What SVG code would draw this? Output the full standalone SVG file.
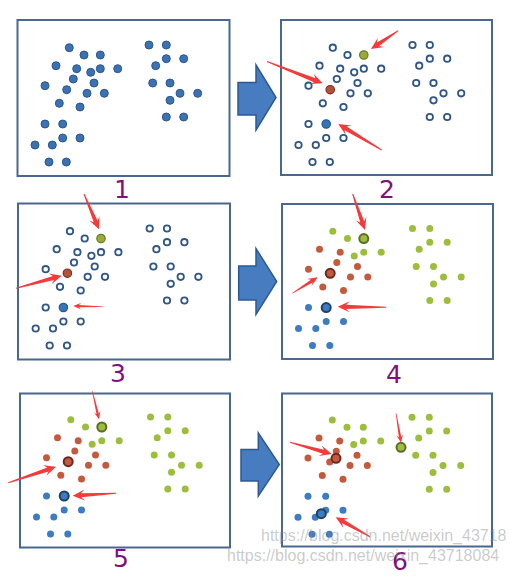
<svg xmlns="http://www.w3.org/2000/svg" width="510" height="576" viewBox="0 0 510 576">
<style>
.frame{fill:#fff;stroke:#4a6790;stroke-width:2}
.d{fill:#3c71b3;stroke:#2a588d;stroke-width:1}
.o{fill:#fff;stroke:#2f5686;stroke-width:1.8}
.g{fill:#9dbd3c}
.r{fill:#c45a3d}
.b{fill:#3b7cc4}
.cg{fill:#9aab38;stroke:#6d7a28;stroke-width:1.2}
.cr{fill:#b5503a;stroke:#7c2f22;stroke-width:1.2}
.cb{fill:#3674ba;stroke:#2a5a90;stroke-width:1.2}
.rg{fill:#9dbd3c;stroke:#5f6b26;stroke-width:2}
.rr{fill:#c45a3d;stroke:#6b2820;stroke-width:2}
.rb{fill:#3b7cc4;stroke:#22405f;stroke-width:2}
.blk{fill:#477dc0;stroke:#2d5a92;stroke-width:1.5}
.ra{fill:#f43a3a}
.lbl{font-family:"DejaVu Sans",sans-serif;font-size:25px;fill:#80107f;text-anchor:middle}
.wm{font-family:"Liberation Sans",Arial,sans-serif;font-size:16px;fill:#8a8a8a;fill-opacity:0.45}
</style>

<g id="panel1">
<rect class="frame" x="17.5" y="20" width="212" height="156"/>
<g class="d">
<circle cx="69.3" cy="47.7" r="4"/><circle cx="84" cy="55" r="4"/><circle cx="100.3" cy="55" r="4"/><circle cx="56" cy="65.7" r="4"/><circle cx="76.7" cy="68.7" r="4"/><circle cx="90.7" cy="72.3" r="4"/><circle cx="100.3" cy="68.7" r="4"/><circle cx="117.7" cy="68.7" r="4"/><circle cx="73.3" cy="79" r="4"/><circle cx="94" cy="83" r="4"/><circle cx="45" cy="85.7" r="4"/><circle cx="66.7" cy="89.7" r="4"/><circle cx="87" cy="93.3" r="4"/><circle cx="104.3" cy="93.3" r="4"/><circle cx="59.3" cy="103.3" r="4"/><circle cx="80" cy="107" r="4"/><circle cx="45" cy="124" r="4"/><circle cx="62.7" cy="124" r="4"/><circle cx="62.7" cy="138" r="4"/><circle cx="80" cy="138" r="4"/><circle cx="35" cy="145" r="4"/><circle cx="52.3" cy="145" r="4"/><circle cx="49" cy="162" r="4"/><circle cx="66.3" cy="162" r="4"/>
<circle cx="149" cy="45" r="4"/><circle cx="166.3" cy="45" r="4"/><circle cx="166.3" cy="58.7" r="4"/><circle cx="183.7" cy="58.7" r="4"/><circle cx="155.7" cy="65.7" r="4"/><circle cx="152.7" cy="83" r="4"/><circle cx="170" cy="83" r="4"/><circle cx="180" cy="93.3" r="4"/><circle cx="197.7" cy="93.3" r="4"/><circle cx="170" cy="100.3" r="4"/><circle cx="166.3" cy="117" r="4"/><circle cx="183.7" cy="117" r="4"/>
</g>
<text class="lbl" x="122" y="198">1</text>
</g>

<g id="panel2">
<rect class="frame" x="281" y="20" width="211" height="155"/>
<g transform="translate(263.5,0)">
<g class="o">
<circle cx="69.3" cy="47.7" r="3.2"/><circle cx="84" cy="55" r="3.2"/><circle cx="56" cy="65.7" r="3.2"/><circle cx="76.7" cy="68.7" r="3.2"/><circle cx="90.7" cy="72.3" r="3.2"/><circle cx="100.3" cy="68.7" r="3.2"/><circle cx="117.7" cy="68.7" r="3.2"/><circle cx="73.3" cy="79" r="3.2"/><circle cx="94" cy="83" r="3.2"/><circle cx="45" cy="85.7" r="3.2"/><circle cx="87" cy="93.3" r="3.2"/><circle cx="104.3" cy="93.3" r="3.2"/><circle cx="59.3" cy="103.3" r="3.2"/><circle cx="80" cy="107" r="3.2"/><circle cx="45" cy="124" r="3.2"/><circle cx="62.7" cy="138" r="3.2"/><circle cx="80" cy="138" r="3.2"/><circle cx="35" cy="145" r="3.2"/><circle cx="52.3" cy="145" r="3.2"/><circle cx="49" cy="162" r="3.2"/><circle cx="66.3" cy="162" r="3.2"/>
<circle cx="149" cy="45" r="3.2"/><circle cx="166.3" cy="45" r="3.2"/><circle cx="166.3" cy="58.7" r="3.2"/><circle cx="183.7" cy="58.7" r="3.2"/><circle cx="155.7" cy="65.7" r="3.2"/><circle cx="152.7" cy="83" r="3.2"/><circle cx="170" cy="83" r="3.2"/><circle cx="180" cy="93.3" r="3.2"/><circle cx="197.7" cy="93.3" r="3.2"/><circle cx="170" cy="100.3" r="3.2"/><circle cx="166.3" cy="117" r="3.2"/><circle cx="183.7" cy="117" r="3.2"/>
</g>
<circle class="cg" cx="100.3" cy="55" r="4.2"/>
<circle class="cr" cx="66.7" cy="89.7" r="4.2"/>
<circle class="cb" cx="62.7" cy="124" r="4.2"/>
</g>
<text class="lbl" x="387" y="198">2</text>
</g>

<g id="panel3">
<rect class="frame" x="18" y="203.5" width="212" height="156"/>
<g transform="translate(0.7,183.5)">
<g class="o">
<circle cx="69.3" cy="47.7" r="3.2"/><circle cx="84" cy="55" r="3.2"/><circle cx="56" cy="65.7" r="3.2"/><circle cx="76.7" cy="68.7" r="3.2"/><circle cx="90.7" cy="72.3" r="3.2"/><circle cx="100.3" cy="68.7" r="3.2"/><circle cx="117.7" cy="68.7" r="3.2"/><circle cx="73.3" cy="79" r="3.2"/><circle cx="94" cy="83" r="3.2"/><circle cx="45" cy="85.7" r="3.2"/><circle cx="87" cy="93.3" r="3.2"/><circle cx="104.3" cy="93.3" r="3.2"/><circle cx="59.3" cy="103.3" r="3.2"/><circle cx="80" cy="107" r="3.2"/><circle cx="45" cy="124" r="3.2"/><circle cx="62.7" cy="138" r="3.2"/><circle cx="80" cy="138" r="3.2"/><circle cx="35" cy="145" r="3.2"/><circle cx="52.3" cy="145" r="3.2"/><circle cx="49" cy="162" r="3.2"/><circle cx="66.3" cy="162" r="3.2"/>
<circle cx="149" cy="45" r="3.2"/><circle cx="166.3" cy="45" r="3.2"/><circle cx="166.3" cy="58.7" r="3.2"/><circle cx="183.7" cy="58.7" r="3.2"/><circle cx="155.7" cy="65.7" r="3.2"/><circle cx="152.7" cy="83" r="3.2"/><circle cx="170" cy="83" r="3.2"/><circle cx="180" cy="93.3" r="3.2"/><circle cx="197.7" cy="93.3" r="3.2"/><circle cx="170" cy="100.3" r="3.2"/><circle cx="166.3" cy="117" r="3.2"/><circle cx="183.7" cy="117" r="3.2"/>
</g>
<circle class="cg" cx="100.3" cy="55" r="4.2"/>
<circle class="cr" cx="66.7" cy="89.7" r="4.2"/>
<circle class="cb" cx="62.7" cy="124" r="4.2"/>
</g>
<text class="lbl" x="118" y="382">3</text>
</g>

<g id="panel4">
<rect class="frame" x="282" y="204" width="211" height="155"/>
<g transform="translate(263.5,183.6)">
<g class="g">
<circle cx="69.3" cy="47.7" r="3.5"/><circle cx="84" cy="55" r="3.5"/><circle cx="90.7" cy="72.3" r="3.5"/><circle cx="100.3" cy="68.7" r="3.5"/><circle cx="117.7" cy="68.7" r="3.5"/>
<circle cx="149" cy="45" r="3.5"/><circle cx="166.3" cy="45" r="3.5"/><circle cx="166.3" cy="58.7" r="3.5"/><circle cx="183.7" cy="58.7" r="3.5"/><circle cx="155.7" cy="65.7" r="3.5"/><circle cx="152.7" cy="83" r="3.5"/><circle cx="170" cy="83" r="3.5"/><circle cx="180" cy="93.3" r="3.5"/><circle cx="197.7" cy="93.3" r="3.5"/><circle cx="170" cy="100.3" r="3.5"/><circle cx="166.3" cy="117" r="3.5"/><circle cx="183.7" cy="117" r="3.5"/>
</g>
<g class="r">
<circle cx="56" cy="65.7" r="3.5"/><circle cx="76.7" cy="68.7" r="3.5"/><circle cx="73.3" cy="79" r="3.5"/><circle cx="94" cy="83" r="3.5"/><circle cx="45" cy="85.7" r="3.5"/><circle cx="87" cy="93.3" r="3.5"/><circle cx="104.3" cy="93.3" r="3.5"/><circle cx="59.3" cy="103.3" r="3.5"/><circle cx="80" cy="107" r="3.5"/>
</g>
<g class="b">
<circle cx="45" cy="124" r="3.5"/><circle cx="62.7" cy="138" r="3.5"/><circle cx="80" cy="138" r="3.5"/><circle cx="35" cy="145" r="3.5"/><circle cx="52.3" cy="145" r="3.5"/><circle cx="49" cy="162" r="3.5"/><circle cx="66.3" cy="162" r="3.5"/>
</g>
<circle class="rg" cx="100.3" cy="55" r="4.5"/>
<circle class="rr" cx="66.7" cy="89.7" r="4.5"/>
<circle class="rb" cx="62.7" cy="124" r="4.5"/>
</g>
<text class="lbl" x="394" y="383">4</text>
</g>

<g id="panel5">
<rect class="frame" x="20" y="393.5" width="210" height="154"/>
<g transform="translate(1.5,372)">
<g class="g">
<circle cx="69.3" cy="47.7" r="3.5"/><circle cx="84" cy="55" r="3.5"/><circle cx="90.7" cy="72.3" r="3.5"/><circle cx="100.3" cy="68.7" r="3.5"/><circle cx="117.7" cy="68.7" r="3.5"/>
<circle cx="149" cy="45" r="3.5"/><circle cx="166.3" cy="45" r="3.5"/><circle cx="166.3" cy="58.7" r="3.5"/><circle cx="183.7" cy="58.7" r="3.5"/><circle cx="155.7" cy="65.7" r="3.5"/><circle cx="152.7" cy="83" r="3.5"/><circle cx="170" cy="83" r="3.5"/><circle cx="180" cy="93.3" r="3.5"/><circle cx="197.7" cy="93.3" r="3.5"/><circle cx="170" cy="100.3" r="3.5"/><circle cx="166.3" cy="117" r="3.5"/><circle cx="183.7" cy="117" r="3.5"/>
</g>
<g class="r">
<circle cx="56" cy="65.7" r="3.5"/><circle cx="76.7" cy="68.7" r="3.5"/><circle cx="73.3" cy="79" r="3.5"/><circle cx="94" cy="83" r="3.5"/><circle cx="45" cy="85.7" r="3.5"/><circle cx="87" cy="93.3" r="3.5"/><circle cx="104.3" cy="93.3" r="3.5"/><circle cx="59.3" cy="103.3" r="3.5"/><circle cx="80" cy="107" r="3.5"/>
</g>
<g class="b">
<circle cx="45" cy="124" r="3.5"/><circle cx="62.7" cy="138" r="3.5"/><circle cx="80" cy="138" r="3.5"/><circle cx="35" cy="145" r="3.5"/><circle cx="52.3" cy="145" r="3.5"/><circle cx="49" cy="162" r="3.5"/><circle cx="66.3" cy="162" r="3.5"/>
</g>
<circle class="rg" cx="100.3" cy="55" r="4.5"/>
<circle class="rr" cx="66.7" cy="89.7" r="4.5"/>
<circle class="rb" cx="62.7" cy="124" r="4.5"/>
</g>
<text class="lbl" x="121" y="567">5</text>
</g>

<g id="panel6">
<rect class="frame" x="282" y="393.5" width="210" height="153"/>
<g transform="translate(263,372.3)">
<g class="g">
<circle cx="69.3" cy="47.7" r="3.5"/><circle cx="84" cy="55" r="3.5"/><circle cx="100.3" cy="55" r="3.5"/><circle cx="90.7" cy="72.3" r="3.5"/><circle cx="100.3" cy="68.7" r="3.5"/><circle cx="117.7" cy="68.7" r="3.5"/>
<circle cx="149" cy="45" r="3.5"/><circle cx="166.3" cy="45" r="3.5"/><circle cx="166.3" cy="58.7" r="3.5"/><circle cx="183.7" cy="58.7" r="3.5"/><circle cx="155.7" cy="65.7" r="3.5"/><circle cx="152.7" cy="83" r="3.5"/><circle cx="170" cy="83" r="3.5"/><circle cx="180" cy="93.3" r="3.5"/><circle cx="197.7" cy="93.3" r="3.5"/><circle cx="170" cy="100.3" r="3.5"/><circle cx="166.3" cy="117" r="3.5"/><circle cx="183.7" cy="117" r="3.5"/>
</g>
<g class="r">
<circle cx="56" cy="65.7" r="3.5"/><circle cx="76.7" cy="68.7" r="3.5"/><circle cx="73.3" cy="79" r="3.5"/><circle cx="94" cy="83" r="3.5"/><circle cx="45" cy="85.7" r="3.5"/><circle cx="66.7" cy="89.7" r="3.5"/><circle cx="87" cy="93.3" r="3.5"/><circle cx="104.3" cy="93.3" r="3.5"/><circle cx="59.3" cy="103.3" r="3.5"/><circle cx="80" cy="107" r="3.5"/>
</g>
<g class="b">
<circle cx="45" cy="124" r="3.5"/><circle cx="62.7" cy="124" r="3.5"/><circle cx="62.7" cy="138" r="3.5"/><circle cx="80" cy="138" r="3.5"/><circle cx="35" cy="145" r="3.5"/><circle cx="52.3" cy="145" r="3.5"/><circle cx="49" cy="162" r="3.5"/><circle cx="66.3" cy="162" r="3.5"/>
</g>
<circle class="rg" cx="138" cy="75" r="4.5"/>
<circle class="rr" cx="73" cy="86" r="4.5"/>
<circle class="rb" cx="58.3" cy="141.4" r="4.5"/>
</g>
<text class="lbl" x="400" y="570">6</text>
</g>

<g id="connectors">
<polygon class="blk" points="238,82.5 256,82.5 256,65 276,97.5 256,130 256,115 238,115"/>
<polygon class="blk" points="238.7,266 256,266 256,248.5 276.7,281.5 256,314.5 256,300 238.7,300"/>
<polygon class="blk" points="241,449.5 258.3,449.5 258.3,433 279.3,464.5 258.3,496 258.3,481 241,481"/>
</g>

<g id="pointers" class="ra">
<polygon transform="translate(398.3,30.7) rotate(146.2)" points="0,-0.5 24.4,-2.1 20.9,-5.5 32.9,0 20.9,5.5 24.4,2.1 0,0.5"/>
<polygon transform="translate(267,61.5) rotate(21.4)" points="0,-0.5 51.3,-2.1 47.8,-5.5 59.8,0 47.8,5.5 51.3,2.1 0,0.5"/>
<polygon transform="translate(381.7,150) rotate(-149.1)" points="0,-0.5 42.1,-2.1 38.6,-5.5 50.6,0 38.6,5.5 42.1,2.1 0,0.5"/>
<polygon transform="translate(84,194) rotate(67)" points="0,-0.5 29.9,-2.1 26.4,-5.5 38.4,0 26.4,5.5 29.9,2.1 0,0.5"/>
<polygon transform="translate(16,288.3) rotate(-15.4)" points="0,-0.5 38.9,-2.1 35.4,-5.5 47.4,0 35.4,5.5 38.9,2.1 0,0.5"/>
<polygon transform="translate(103.3,306.7) rotate(-178.7)" points="0,-0.3 24.5,-1.2 22,-3.4 30,0 22,3.4 24.5,1.2 0,0.3"/>
<polygon transform="translate(352.7,194) rotate(71.1)" points="0,-0.5 29.5,-2.1 26,-5.5 38,0 26,5.5 29.5,2.1 0,0.5"/>
<polygon transform="translate(292.3,293.3) rotate(-32.2)" points="0,-0.3 23,-1.6 20,-4.2 30,0 20,4.2 23,1.6 0,0.3"/>
<polygon transform="translate(386,307.3) rotate(180.7)" points="0,-0.5 39.8,-2.1 36.3,-5.5 48.3,0 36.3,5.5 39.8,2.1 0,0.5"/>
<polygon transform="translate(92.3,391) rotate(76.7)" points="0,-0.3 23.6,-1.2 21.1,-3.4 29.1,0 21.1,3.4 23.6,1.2 0,0.3"/>
<polygon transform="translate(8.3,482.7) rotate(-18.5)" points="0,-0.5 41.8,-2.1 38.3,-5.5 50.3,0 38.3,5.5 41.8,2.1 0,0.5"/>
<polygon transform="translate(116,493.3) rotate(176.8)" points="0,-0.5 34.9,-2.1 31.4,-5.5 43.4,0 31.4,5.5 34.9,2.1 0,0.5"/>
<polygon transform="translate(290,442.3) rotate(15.7)" points="0,-0.5 34.8,-2.1 31.3,-5.5 43.3,0 31.3,5.5 34.8,2.1 0,0.5"/>
<polygon transform="translate(396,413.3) rotate(80.3)" points="0,-0.3 24.3,-1.2 21.8,-3.4 29.8,0 21.8,3.4 24.3,1.2 0,0.3"/>
<polygon transform="translate(370,536.7) rotate(-150.5)" points="0,-0.5 30.9,-2.1 27.4,-5.5 39.4,0 27.4,5.5 30.9,2.1 0,0.5"/>
</g>

<g id="watermark">
<text class="wm" x="261" y="541">https://blog.csdn.net/weixin_43718</text>
<text class="wm" x="227" y="561">https://blog.csdn.net/weixin_43718084</text>
</g>
</svg>
